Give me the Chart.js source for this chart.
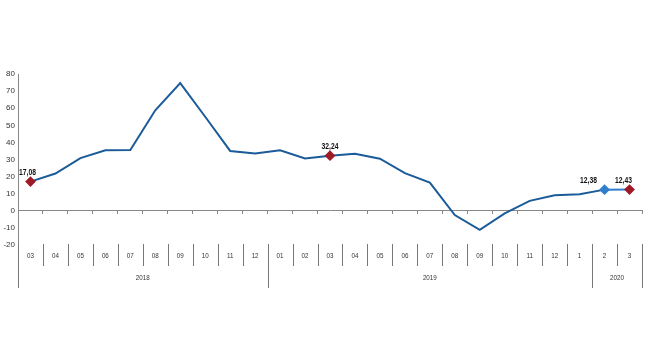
<!DOCTYPE html>
<html><head><meta charset="utf-8">
<script src="https://cdn.jsdelivr.net/npm/chart.js@4/dist/chart.umd.min.js"></script>
<style>html,body{margin:0;padding:0;background:#fff}#wrap{width:650px;height:360px}</style>
</head><body><div id="wrap"><canvas id="c" width="650" height="360"></canvas></div>
<script>
const categories = ['03','04','05','06','07','08','09','10','11','12','01','02','03','04','05','06','07','08','09','10','11','12','1','2','3'];
const categoryYears = ['2018','2018','2018','2018','2018','2018','2018','2018','2018','2018','2019','2019','2019','2019','2019','2019','2019','2019','2019','2019','2019','2019','2019','2020','2020'];
const values = [17.08,21.8,30.8,35.4,35.6,58.8,74.7,55.0,35.0,33.5,35.4,30.6,32.24,33.3,30.5,22.0,16.5,-2.5,-11.1,-1.5,5.8,9.1,9.7,12.38,12.43];
const labelledPoints = [0,12,23,24];
const yTicks = {min:-20,max:80,step:10};

const FONT = '"Liberation Sans",Arial,sans-serif';
const LINE = '#1b5b99';
const RED = '#9e1b26';
const BLUE = '#2f7fcc';

const pointColors = values.map((v,i)=> i===23 ? BLUE : RED);
const pointRadius = values.map((v,i)=> labelledPoints.includes(i) ? 4 : 0);
const labelDx = {0:-3, 12:0, 23:-16, 24:-6};

function narrowText(ctx, txt, x, y, k){
  ctx.save(); ctx.translate(x, y); ctx.scale(k, 1); ctx.fillText(txt, 0, 0); ctx.restore();
}

const bottomPlugin = {
  id:'bottomLabels',
  afterDraw(chart){
    const ctx = chart.ctx, x = chart.scales.x, area = chart.chartArea;
    const n = categories.length;
    const half = (x.getPixelForValue(1) - x.getPixelForValue(0))/2;
    const top = area.bottom - 1, monthBottom = top + 22, yearBottom = top + 44;
    ctx.save();
    ctx.strokeStyle = '#777'; ctx.lineWidth = 1;
    ctx.fillStyle = '#333';
    ctx.font = '8px ' + FONT;
    ctx.textAlign = 'center'; ctx.textBaseline = 'middle';
    for(let i=0;i<n;i++){
      narrowText(ctx, categories[i], x.getPixelForValue(i), top + 12, 0.78);
    }
    for(let i=0;i<=n;i++){
      const bx = Math.round(x.getPixelForValue(0) - half + i*2*half) + 0.5;
      const yearEdge = (i===0 || i===n || categoryYears[i]!==categoryYears[i-1]);
      ctx.beginPath(); ctx.moveTo(bx, top); ctx.lineTo(bx, yearEdge ? yearBottom : monthBottom); ctx.stroke();
    }
    let start = 0;
    for(let i=1;i<=n;i++){
      if(i===n || categoryYears[i]!==categoryYears[start]){
        const cx = (x.getPixelForValue(start) + x.getPixelForValue(i-1))/2;
        narrowText(ctx, categoryYears[start], cx, top + 34, 0.78);
        start = i;
      }
    }
    const meta = chart.getDatasetMeta(0);
    ctx.fillStyle = '#111';
    ctx.font = 'bold 9px ' + FONT;
    ctx.textBaseline = 'alphabetic';
    labelledPoints.forEach(i=>{
      const p = meta.data[i];
      const txt = values[i].toFixed(2).replace('.', ',');
      narrowText(ctx, txt, p.x + (labelDx[i]||0), p.y - 7, 0.75);
    });
    ctx.restore();
  }
};

new Chart(document.getElementById('c'), {
  type:'line',
  data:{ labels: categories, datasets:[{
    data: values,
    borderColor: LINE, borderWidth: 2, tension: 0,
    pointStyle:'rectRot', pointRadius: pointRadius, pointHoverRadius: pointRadius,
    pointBackgroundColor: pointColors, pointBorderColor: pointColors,
    segment:{ borderColor: c => c.p0DataIndex===23 ? BLUE : undefined }
  }]},
  options:{
    responsive:false, animation:false,
    layout:{ padding:{ top:74, right:8, bottom:115, left:0 } },
    plugins:{ legend:{display:false}, tooltip:{enabled:false} },
    scales:{
      x:{ type:'category', offset:true, position:{y:0},
          grid:{ offset:true, drawOnChartArea:false, tickLength:3, color:'#888' },
          border:{ color:'#888' },
          ticks:{ display:false } },
      y:{ min:yTicks.min, max:yTicks.max,
          grid:{ display:false, drawTicks:false },
          border:{ color:'#888' },
          ticks:{ stepSize:yTicks.step, color:'#333', padding:3, font:{ size:8, family:FONT } },
          afterFit(s){ s.width = 18; } }
    }
  },
  plugins:[bottomPlugin]
});
</script></body></html>
